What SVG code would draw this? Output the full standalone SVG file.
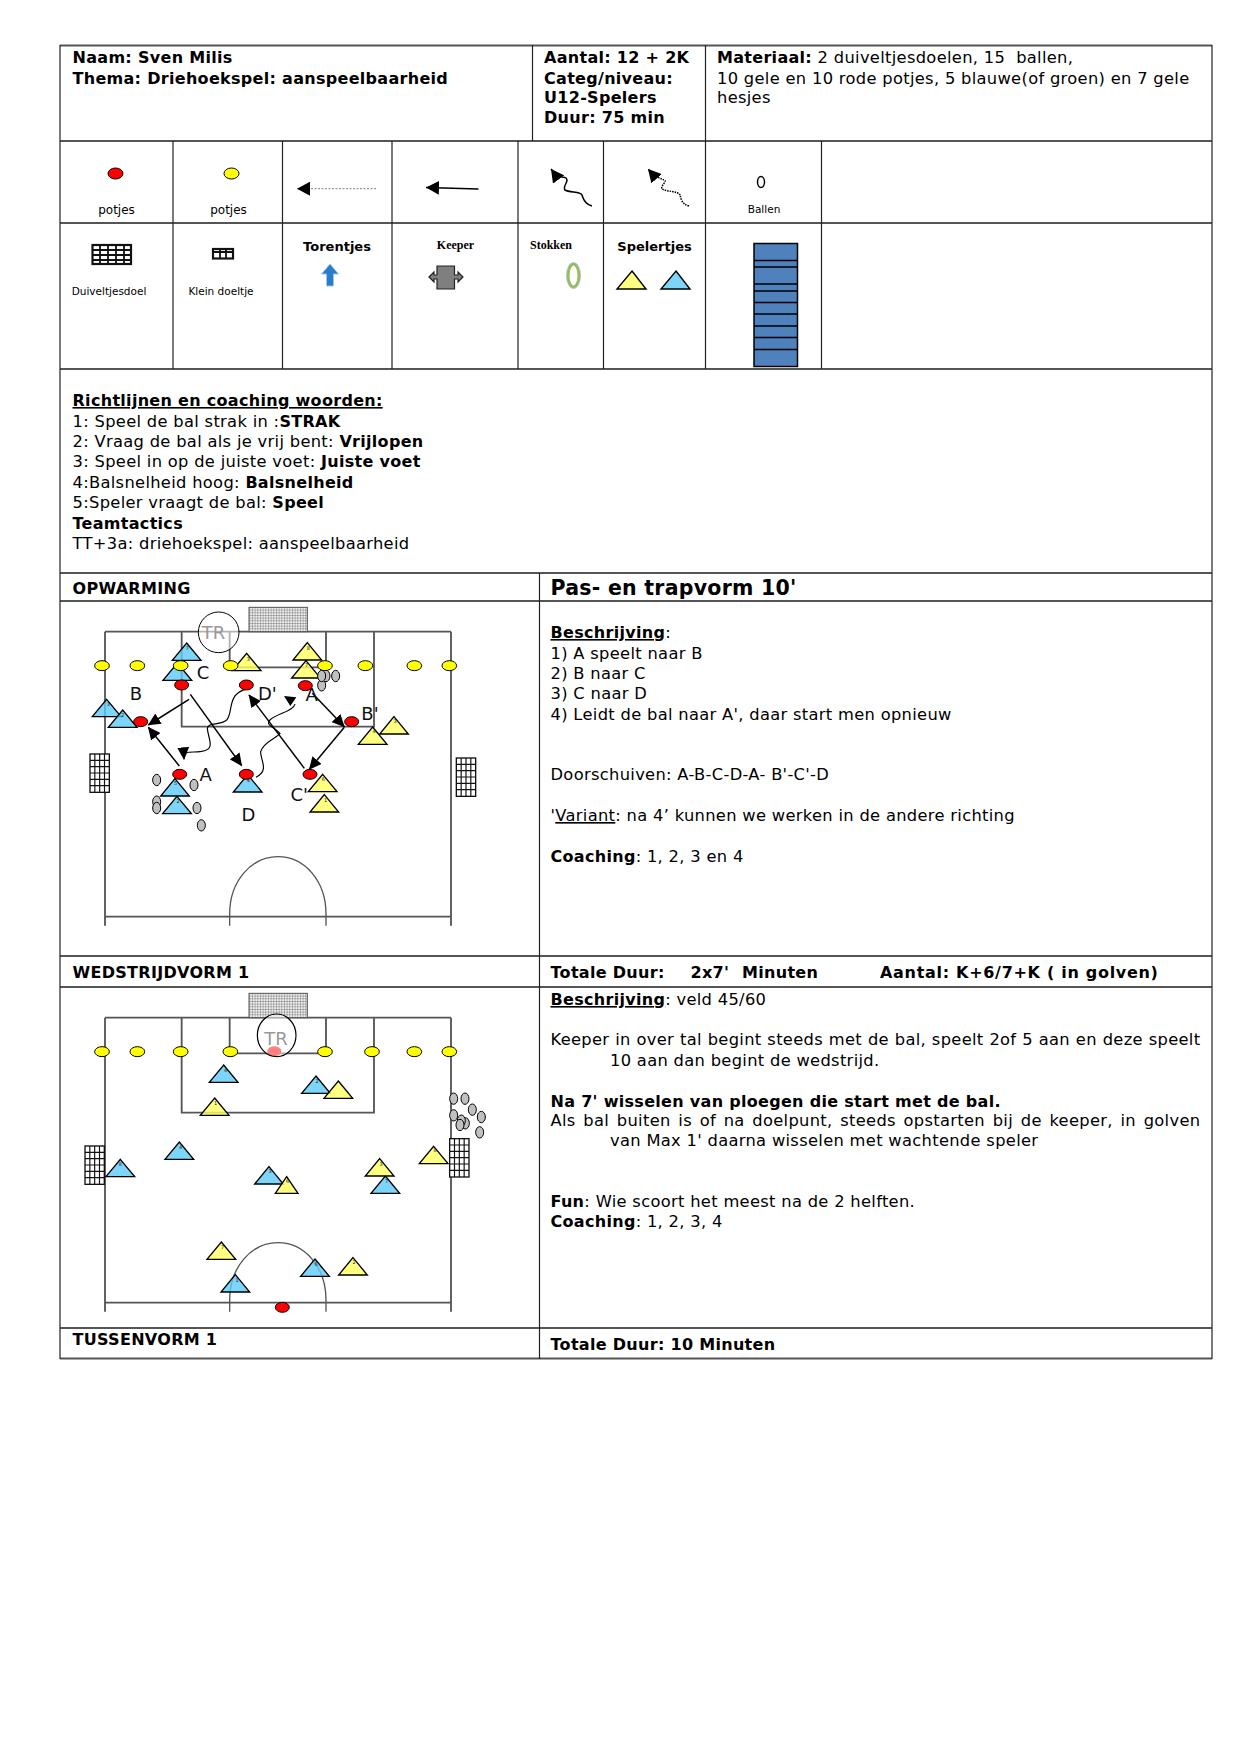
<svg xmlns="http://www.w3.org/2000/svg" width="1241" height="1754" viewBox="0 0 1241 1754">
<style>
text{font-family:"DejaVu Sans",Verdana,sans-serif;font-size:16.3px;letter-spacing:.32px;fill:#000}
.b{font-weight:bold;font-size:16px;letter-spacing:.3px}
.u{text-decoration:underline}
.h{stroke:#555;stroke-width:2;fill:none}
.v{stroke:#222;stroke-width:1.2;fill:none}
.small{font-size:10.5px;letter-spacing:0}
.pot{font-size:12px;letter-spacing:0}
.leg{font-size:13px;font-weight:bold;letter-spacing:0}
.tim{font-family:"Liberation Serif",serif;font-size:12px;font-weight:bold;letter-spacing:0}
.fl{fill:none;stroke:#555;stroke-width:5.500}
.lab{font-size:54px;fill:#111;letter-spacing:0}
.tr{font-size:54px;fill:#999;letter-spacing:0}
.d{font-size:15px;fill:#222;text-anchor:middle;letter-spacing:0}
.red{fill:#f00;stroke:#000;stroke-width:3}
.yel{fill:#ff0;stroke:#000;stroke-width:3}
.ball{fill:#c0c0c0;stroke:#000;stroke-width:3}
.ty{fill:#ffff60;fill-opacity:.8;stroke:#000;stroke-width:4}
.tb{fill:#5ccaf7;fill-opacity:.8;stroke:#000;stroke-width:4}
.arr{fill:none;stroke:#000;stroke-width:4.500}
.wav{fill:none;stroke:#000;stroke-width:3.500}
</style>
<defs>
<pattern id="net" width="8" height="8" patternUnits="userSpaceOnUse"><rect width="8" height="8" fill="#eee"/><path d="M0 0H8M0 0V8" stroke="#555" stroke-width="2.200"/></pattern>
<marker id="ah" markerUnits="userSpaceOnUse" markerWidth="40" markerHeight="36" refX="36" refY="18" orient="auto"><path d="M0 0L38 18L0 36z" fill="#000"/></marker>
<marker id="ahs" markerUnits="userSpaceOnUse" markerWidth="14" markerHeight="14" refX="13" refY="7" orient="auto"><path d="M0 0L13 7L0 14z" fill="#000"/></marker>
<g id="gs"><rect x="0" y="0" width="58" height="115" fill="#fff" stroke="#111" stroke-width="4"/><path d="M14.500 0V115M29 0V115M43.500 0V115M0 19H58M0 38H58M0 57H58M0 76H58M0 95H58" stroke="#111" stroke-width="3.500"/></g>
<path id="y" class="ty" d="M0 0L43 52H-43z"/>
<path id="t" class="tb" d="M0 0L43 52H-43z"/>
<ellipse id="ey" class="yel" rx="22" ry="15"/>
<ellipse id="er" class="red" rx="21" ry="15"/>
<ellipse id="eb" class="ball" rx="12" ry="17"/>
<g id="pitch"><path class="fl" d="M135 98H1173M135 98V980M1173 98V980M135 953H1173M365 98V383H942V98M509 98V205H798V98"/><path d="M509 980V945C509 845 575 773 654 773C733 773 798 845 798 945V980" fill="none" stroke="#555" stroke-width="4"/><rect x="567" y="25" width="175" height="73" fill="url(#net)" stroke="#555" stroke-width="3"/></g>
</defs>

<g id="table">
<path class="h" d="M60 45.500H1212M60 141H1212M60 223H1212M60 369H1212M60 573H1212M60 601H1212M60 956H1212M60 987H1212M60 1328H1212M60 1358.500H1212"/>
<path class="v" d="M60 45V1359M1212 45V1359M532.500 45V141M705.500 45V141M173 141V369M282.500 141V369M392 141V369M518 141V369M603.500 141V369M705.500 141V369M821.500 141V369M539.500 573V1359"/>
</g>

<g id="header">
<text x="72.500" y="62.500" class="b">Naam: Sven Milis</text>
<text x="72.500" y="83.500" class="b">Thema: Driehoekspel: aanspeelbaarheid</text>
<text x="544" y="62.500" class="b">Aantal: 12 + 2K</text>
<text x="544" y="83.500" class="b">Categ/niveau:</text>
<text x="544" y="103" class="b">U12-Spelers</text>
<text x="544" y="123" class="b">Duur: 75 min</text>
<text x="717" y="62.500"><tspan class="b">Materiaal:</tspan> 2 duiveltjesdoelen, 15&#160; ballen,</text>
<text x="717" y="83.500">10 gele en 10 rode potjes, 5 blauwe(of groen) en 7 gele</text>
<text x="717" y="103">hesjes</text>
</g>

<g id="legend-potjes-rood"><ellipse cx="115.500" cy="173.500" rx="7.500" ry="5.500" fill="#f00" stroke="#000" stroke-width="1"/><text x="116.500" y="214" text-anchor="middle" class="pot">potjes</text></g>
<g id="legend-potjes-geel"><ellipse cx="231.500" cy="173.500" rx="7.500" ry="5.500" fill="#ff0" stroke="#000" stroke-width="1"/><text x="228.500" y="214" text-anchor="middle" class="pot">potjes</text></g>
<g id="legend-ballen"><ellipse cx="761" cy="182" rx="3.500" ry="5.500" fill="#fff" stroke="#000" stroke-width="1.500"/><text x="764" y="213" text-anchor="middle" class="small">Ballen</text></g>
<g id="legend-duiveltjesdoel"><rect x="92.500" y="245" width="38.500" height="19" fill="#fff" stroke="#111" stroke-width="2.200"/><path d="M100 245V264M108 245V264M116 245V264M124 245V264M92 250H131M92 255H131M92 260H131" stroke="#111" stroke-width="1.800"/><text x="109" y="295" text-anchor="middle" class="small">Duiveltjesdoel</text></g>
<g id="legend-klein-doeltje"><rect x="213" y="249" width="20" height="9.500" fill="#fff" stroke="#111" stroke-width="2.200"/><path d="M220 249V258M226 249V258M213 252H233" stroke="#111" stroke-width="1.800"/><text x="221" y="295" text-anchor="middle" class="small">Klein doeltje</text></g>
<g id="legend-torentjes"><text x="337" y="251" text-anchor="middle" class="leg">Torentjes</text><path d="M330 264L338.500 274H333.500V286H326.500V274H321.500z" fill="#2b7cc8" stroke="#9cc6ea" stroke-width="1"/></g>
<g id="legend-keeper"><text x="455.500" y="249" text-anchor="middle" class="tim">Keeper</text><path d="M429 277L434 272V275H437V266H454.500V275H458V272L463 277L458 282V279H454.500V289H437V279H434V282z" fill="#7f7f7f" stroke="#222" stroke-width="1.200"/></g>
<g id="legend-stokken"><text x="551" y="249" text-anchor="middle" class="tim">Stokken</text><ellipse cx="573.500" cy="275.500" rx="5.500" ry="11.500" fill="#fff" stroke="#9bbb59" stroke-width="3"/><ellipse cx="573.500" cy="275.500" rx="7" ry="13" fill="none" stroke="#9dc3e6" stroke-width="0.800"/></g>
<g id="legend-spelertjes"><text x="654.500" y="251" text-anchor="middle" class="leg">Spelertjes</text><path d="M632 271L646 289H617z" fill="#ffff80" stroke="#000" stroke-width="1.400"/><path d="M676 271L690 289H661z" fill="#7dd5f8" stroke="#000" stroke-width="1.400"/></g>
<g id="legend-hesjes"><rect x="754" y="243.500" width="43.500" height="123" fill="#4f81bd" stroke="#000" stroke-width="1.500"/><path d="M754 260.500H797.500M754 267H797.500M754 284H797.500M754 291H797.500M754 302.500H797.500M754 314H797.500M754 326H797.500M754 337.500H797.500M754 349.500H797.500" stroke="#000" stroke-width="1.500"/></g>

<g id="legend-connectors">
<path d="M376 188.700H297" fill="none" stroke="#666" stroke-width="0.800" stroke-dasharray="2 1.500" marker-end="url(#ahs)"/>
<path d="M478.500 189L426 187.500" fill="none" stroke="#000" stroke-width="1.500" marker-end="url(#ahs)"/>
<path d="M592 206C584 204 583 198 582 195C580 191 570 193 565 190C562 186 570 181 566 178C563 176 559 180 551 169" fill="none" stroke="#000" stroke-width="1.500" marker-end="url(#ahs)"/>
<path d="M689 206C681 204 681 198 680 195C678 191 668 192 662 189C660 186 668 181 664 180C660 178 656 178 648 169" fill="none" stroke="#000" stroke-width="1.500" stroke-dasharray="1.500 1" marker-end="url(#ahs)"/>
</g>

<g id="richtlijnen">
<text x="72.500" y="406" class="b u">Richtlijnen en coaching woorden:</text>
<text x="72.500" y="426.500">1: Speel de bal strak in :<tspan class="b">STRAK</tspan></text>
<text x="72.500" y="447">2: Vraag de bal als je vrij bent: <tspan class="b">Vrijlopen</tspan></text>
<text x="72.500" y="467">3: Speel in op de juiste voet: <tspan class="b">Juiste voet</tspan></text>
<text x="72.500" y="488">4:Balsnelheid hoog: <tspan class="b">Balsnelheid</tspan></text>
<text x="72.500" y="508">5:Speler vraagt de bal: <tspan class="b">Speel</tspan></text>
<text x="72.500" y="528.500" class="b">Teamtactics</text>
<text x="72.500" y="549">TT+3a: driehoekspel: aanspeelbaarheid</text>
</g>

<g id="opwarming-kop">
<text x="72.500" y="593.500" class="b">OPWARMING</text>
<text x="550.500" y="594.500" class="b" style="font-size:20.500px;letter-spacing:.25px">Pas- en trapvorm 10'</text>
</g>

<g id="veld-opwarming" transform="translate(60 600) scale(.33333)">
<use href="#pitch" y="-3"/>
<use href="#gs" x="90" y="462"/><use href="#gs" x="1189" y="474"/>
<g id="potjes-1">
<use href="#ey" x="126" y="197"/><use href="#ey" x="232" y="197"/><use href="#ey" x="916" y="197"/><use href="#ey" x="1063" y="197"/><use href="#ey" x="1168" y="197"/>
</g>
<g id="spelers-1">
<use href="#t" x="380" y="129"/><use href="#t" x="352" y="189"/><use href="#t" x="140" y="298"/><use href="#t" x="188" y="330"/><use href="#t" x="345" y="536"/><use href="#t" x="351" y="589"/><use href="#t" x="563" y="524"/>
<use href="#y" x="560" y="160"/><use href="#y" x="742" y="128"/><use href="#y" x="738" y="182"/><use href="#y" x="938" y="381"/><use href="#y" x="1002" y="350"/><use href="#y" x="788" y="523"/><use href="#y" x="793" y="584"/>
<text class="d" x="382" y="149">7</text><text class="d" x="145" y="318">3</text><text class="d" x="188" y="350">2</text><text class="d" x="347" y="555">5</text><text class="d" x="354" y="610">2</text><text class="d" x="565" y="546">4</text>
<text class="d" x="565" y="183">3</text><text class="d" x="745" y="149">8</text><text class="d" x="740" y="202">7</text><text class="d" x="942" y="400">4</text><text class="d" x="1005" y="370">3</text><text class="d" x="790" y="544">6</text><text class="d" x="797" y="606">1</text>
</g>
<use href="#ey" x="362" y="197"/><use href="#ey" x="512" y="197"/><use href="#ey" x="795" y="197"/>
<g id="ballen-1">
<use href="#eb" x="290" y="540"/><use href="#eb" x="402" y="555"/><use href="#eb" x="290" y="605"/><use href="#eb" x="290" y="624"/><use href="#eb" x="411" y="624"/><use href="#eb" x="424" y="676"/><use href="#eb" x="785" y="256"/><use href="#eb" x="827" y="228"/><use href="#eb" x="798" y="228"/><use href="#eb" x="785" y="228"/>
</g>
<g id="rood-1">
<use href="#er" x="365" y="255"/><use href="#er" x="559" y="255"/><use href="#er" x="736" y="257"/><use href="#er" x="242" y="365"/><use href="#er" x="875" y="365"/><use href="#er" x="359" y="523"/><use href="#er" x="559" y="523"/><use href="#er" x="750" y="523"/>
</g>
<g id="trainer-1"><circle cx="476" cy="97" r="61" fill="#fff" fill-opacity=".55" stroke="#000" stroke-width="3"/><text x="425" y="116" class="tr">TR</text></g>
<g id="connectors-1">
<path class="arr" d="M387 298L265 375" marker-end="url(#ah)"/>
<path class="arr" d="M358 498L265 382" marker-end="url(#ah)"/>
<path class="arr" d="M391 283L545 497" marker-end="url(#ah)"/>
<path class="arr" d="M757 280L853 380" marker-end="url(#ah)"/>
<path class="arr" d="M853 382L748 508" marker-end="url(#ah)"/>
<path class="arr" d="M733 505L567 285" marker-end="url(#ah)"/>
<path class="wav" d="M555 268C500 285 520 340 500 360C480 378 445 365 442 385C445 420 470 450 420 455C390 458 370 450 372 478" marker-end="url(#ah)"/>
<path class="wav" d="M588 532C630 510 600 480 602 455C610 425 650 415 660 400C640 380 615 375 630 360C650 340 700 335 705 312"/>
<path d="M672 288L709 292L691 318z" fill="#000"/>
</g>
<g id="labels-1">
<text x="429" y="236" class="lab" text-anchor="middle">C</text><text x="228" y="300" class="lab" text-anchor="middle">B</text><text x="622" y="300" class="lab" text-anchor="middle">D'</text><text x="755" y="302" class="lab" text-anchor="middle">A</text><text x="930" y="360" class="lab" text-anchor="middle">B'</text><text x="437" y="543" class="lab" text-anchor="middle">A</text><text x="718" y="603" class="lab" text-anchor="middle">C'</text><text x="565" y="664" class="lab" text-anchor="middle">D</text>
</g>
</g>

<g id="opwarming-tekst">
<text x="550.500" y="638"><tspan class="b u">Beschrijving</tspan>:</text>
<text x="550.500" y="659">1) A speelt naar B</text>
<text x="550.500" y="679">2) B naar C</text>
<text x="550.500" y="699">3) C naar D</text>
<text x="550.500" y="720">4) Leidt de bal naar A', daar start men opnieuw</text>
<text x="550.500" y="780">Doorschuiven: A-B-C-D-A- B'-C'-D</text>
<text x="550.500" y="821">'<tspan class="u">Variant</tspan>: na 4’ kunnen we werken in de andere richting</text>
<text x="550.500" y="862"><tspan class="b">Coaching</tspan>: 1, 2, 3 en 4</text>
</g>

<g id="wedstrijd-kop">
<text x="72.500" y="977.500" class="b">WEDSTRIJDVORM 1</text>
<text x="550.500" y="978" class="b">Totale Duur:</text><text x="690.500" y="978" class="b">2x7'</text><text x="742" y="978" class="b">Minuten</text><text x="880" y="978" class="b" style="letter-spacing:.7px">Aantal: K+6/7+K ( in golven)</text>
</g>

<g id="veld-wedstrijd" transform="translate(60 985) scale(.33333)">
<use href="#pitch"/>
<use href="#gs" x="75" y="483"/><use href="#gs" x="1169" y="461"/>
<g id="potjes-2">
<use href="#ey" x="126" y="200"/><use href="#ey" x="232" y="200"/><use href="#ey" x="362" y="200"/><use href="#ey" x="511" y="200"/><use href="#ey" x="795" y="200"/><use href="#ey" x="936" y="200"/><use href="#ey" x="1063" y="200"/><use href="#ey" x="1168" y="200"/>
</g>
<g id="spelers-2">
<use href="#t" x="491" y="240"/><use href="#t" x="768" y="273"/><use href="#t" x="358" y="471"/><use href="#t" x="181" y="523"/><use href="#t" x="627" y="545"/><use href="#t" x="976" y="573"/><use href="#t" x="765" y="822"/><use href="#t" x="526" y="869"/>
<use href="#y" x="835" y="288"/><use href="#y" x="464" y="339"/><use href="#y" x="959" y="521"/><use href="#y" x="1121" y="484"/><path class="ty" d="M680 575L714 625H646z"/><use href="#y" x="484" y="771"/><use href="#y" x="879" y="818"/>
<text class="d" x="497" y="260">4</text><text class="d" x="771" y="293">2</text><text class="d" x="362" y="492">4</text><text class="d" x="181" y="544">8</text><text class="d" x="630" y="563">3</text><text class="d" x="980" y="595">7</text><text class="d" x="768" y="843">6</text><text class="d" x="531" y="892">1</text>
<text class="d" x="467" y="360">1</text><text class="d" x="963" y="542">3</text><text class="d" x="1125" y="502">8</text><text class="d" x="683" y="595">6</text><text class="d" x="488" y="792">7</text><text class="d" x="882" y="837">2</text>
</g>
<g id="ballen-2">
<use href="#eb" x="1181" y="341"/><use href="#eb" x="1215" y="341"/><use href="#eb" x="1237" y="374"/><use href="#eb" x="1264" y="396"/><use href="#eb" x="1181" y="391"/><use href="#eb" x="1216" y="415"/><use href="#eb" x="1204" y="407"/><use href="#eb" x="1200" y="420"/><use href="#eb" x="1259" y="442"/>
</g>
<use href="#er" x="667" y="967"/><ellipse cx="643" cy="199" rx="21" ry="15" fill="#f00"/>
<g id="trainer-2"><ellipse cx="650" cy="151" rx="58" ry="64" fill="#fff" fill-opacity=".5" stroke="#000" stroke-width="3.500"/><text x="648" y="180" class="tr" text-anchor="middle">TR</text></g>
</g>

<g id="wedstrijd-tekst">
<text x="550.500" y="1005"><tspan class="b u">Beschrijving</tspan>: veld 45/60</text>
<text x="550.500" y="1045" word-spacing=".35">Keeper in over tal begint steeds met de bal, speelt 2of 5 aan en deze speelt</text>
<text x="610" y="1066">10 aan dan begint de wedstrijd.</text>
<text x="550.500" y="1107" class="b">Na 7' wisselen van ploegen die start met de bal.</text>
<text x="550.500" y="1126" word-spacing="2.200">Als bal buiten is of na doelpunt, steeds opstarten bij de keeper, in golven</text>
<text x="610" y="1146">van Max 1' daarna wisselen met wachtende speler</text>
<text x="550.500" y="1207"><tspan class="b">Fun</tspan>: Wie scoort het meest na de 2 helften.</text>
<text x="550.500" y="1227"><tspan class="b">Coaching</tspan>: 1, 2, 3, 4</text>
</g>

<g id="tussenvorm-kop">
<text x="72.500" y="1345" class="b">TUSSENVORM 1</text>
<text x="550.500" y="1350" class="b">Totale Duur: 10 Minuten</text>
</g>
</svg>
